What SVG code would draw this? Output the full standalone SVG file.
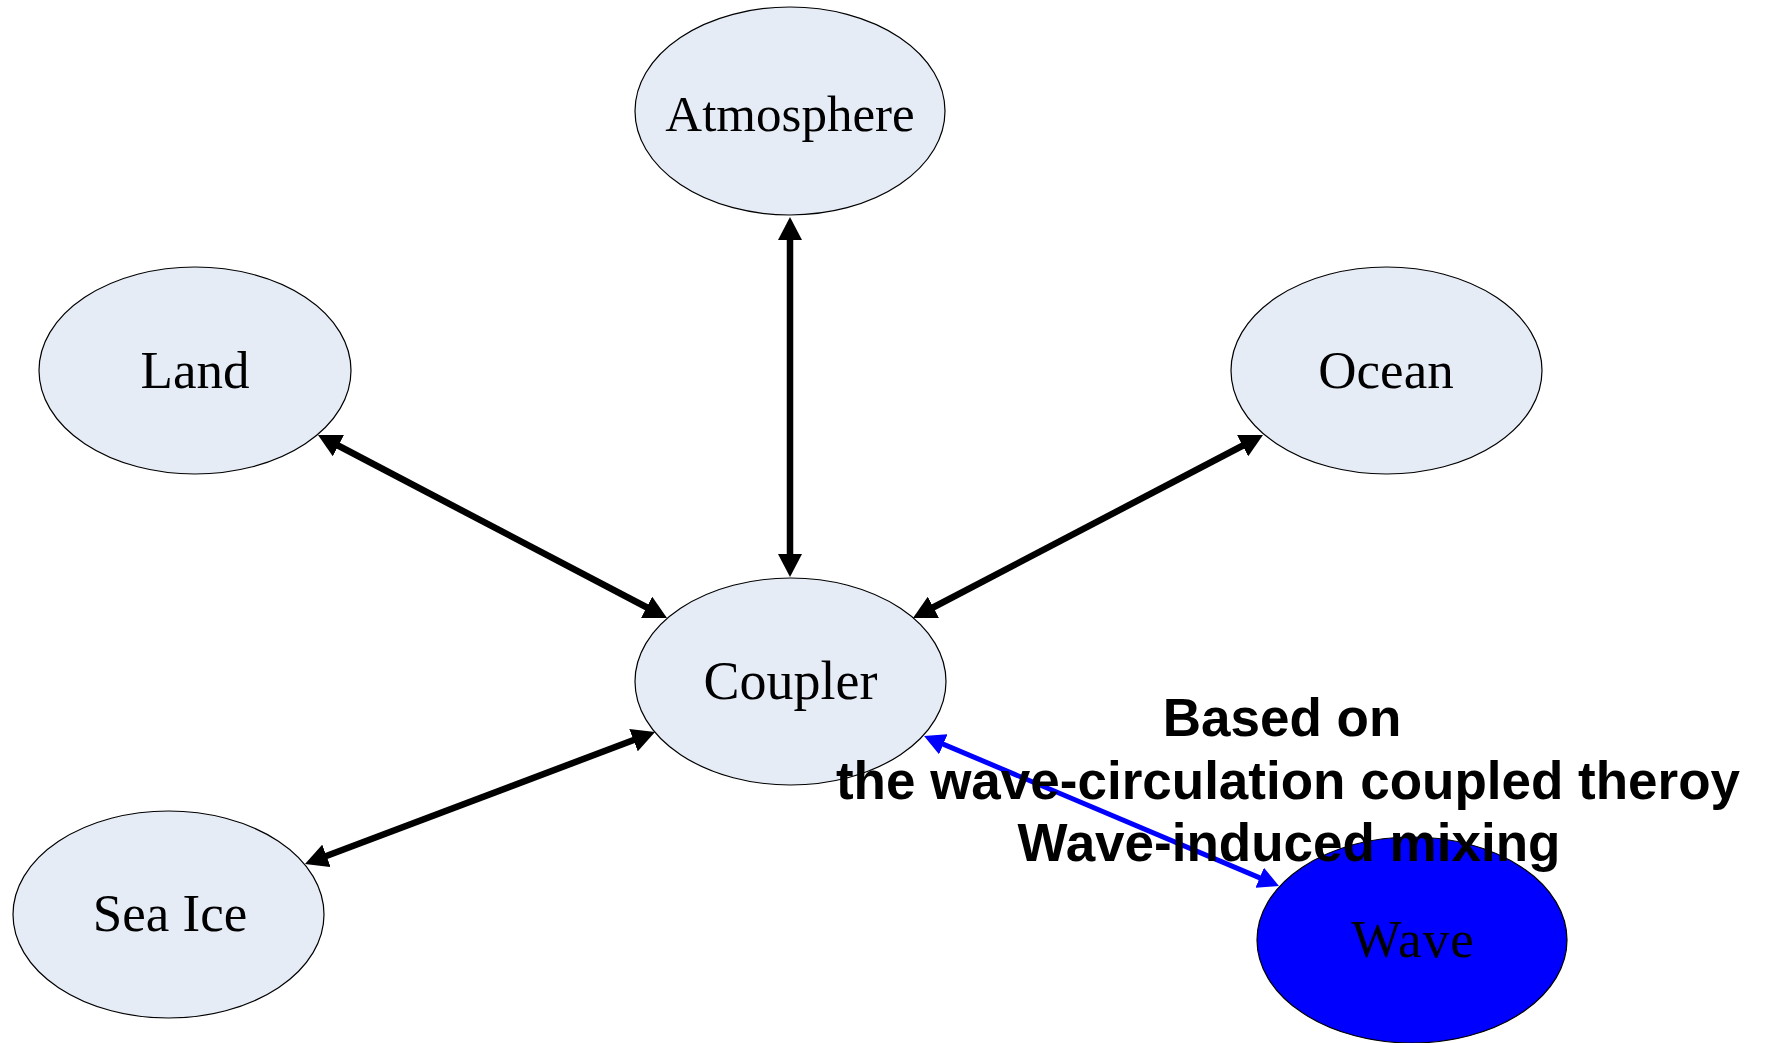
<svg xmlns="http://www.w3.org/2000/svg" width="1765" height="1043" viewBox="0 0 1765 1043">
<style>
.node{fill:#E6ECF6;stroke:#000;stroke-width:1.2}
.lbl{font-family:"Liberation Serif","Times New Roman",serif;font-size:53px;fill:#000;text-anchor:middle}
.conn{stroke:#000;stroke-width:6.5;fill:none}
.blue{stroke:#0000FF;stroke-width:5;fill:none}
.note{font-family:"Liberation Sans",Arial,sans-serif;font-weight:bold;font-size:53px;fill:#000;text-anchor:middle}
</style>
<defs>
<marker id="ah" markerUnits="userSpaceOnUse" markerWidth="24" markerHeight="24" viewBox="0 0 24 24" refX="8" refY="12" orient="auto-start-reverse">
<path d="M0,0 L23,12 L0,24 z" fill="#000"/>
</marker>
<marker id="ahb" markerUnits="userSpaceOnUse" markerWidth="22" markerHeight="22" viewBox="0 0 22 22" refX="8" refY="11" orient="auto-start-reverse">
<path d="M0,0 L21,11 L0,22 z" fill="#0000FF"/>
</marker>
</defs>
<rect width="1765" height="1043" fill="#fff"/>
<g id="atmosphere"><ellipse class="node" cx="790" cy="111" rx="155" ry="104"/><text class="lbl" x="790" y="131" style="font-size:51px">Atmosphere</text></g>
<g id="land"><ellipse class="node" cx="195" cy="370.5" rx="156" ry="103.5"/><text class="lbl" x="195" y="388">Land</text></g>
<g id="ocean"><ellipse class="node" cx="1386.5" cy="370.5" rx="155.5" ry="103.5"/><text class="lbl" x="1386" y="388">Ocean</text></g>
<g id="coupler"><ellipse class="node" cx="790.5" cy="681.5" rx="155.5" ry="103.5"/><text class="lbl" x="790.5" y="699" style="font-size:54px">Coupler</text></g>
<g id="seaice"><ellipse class="node" cx="168.5" cy="914.5" rx="155.5" ry="103.5"/><text class="lbl" x="170" y="931">Sea Ice</text></g>
<g id="wave"><ellipse cx="1412" cy="940" rx="155" ry="103" fill="#0000FF" stroke="#000" stroke-width="1.2"/><text class="lbl" x="1413" y="957" style="letter-spacing:1px">Wave</text></g>
<g id="connectors">
<line class="conn" x1="790" y1="232" x2="790" y2="562" marker-start="url(#ah)" marker-end="url(#ah)"/>
<line class="conn" x1="331.3" y1="442" x2="653.7" y2="611" marker-start="url(#ah)" marker-end="url(#ah)"/>
<line class="conn" x1="1249.7" y1="442" x2="926.3" y2="611" marker-start="url(#ah)" marker-end="url(#ah)"/>
<line class="conn" x1="319" y1="858.7" x2="641" y2="737.3" marker-start="url(#ah)" marker-end="url(#ah)"/>
<line class="blue" x1="936" y1="741.1" x2="1267" y2="880.9" marker-start="url(#ahb)" marker-end="url(#ahb)"/>
</g>
<g id="annotation">
<text class="note" x="1282" y="736">Based on</text>
<text class="note" x="1288" y="799">the wave-circulation coupled theroy</text>
<text class="note" x="1289" y="861">Wave-induced mixing</text>
</g>
</svg>
